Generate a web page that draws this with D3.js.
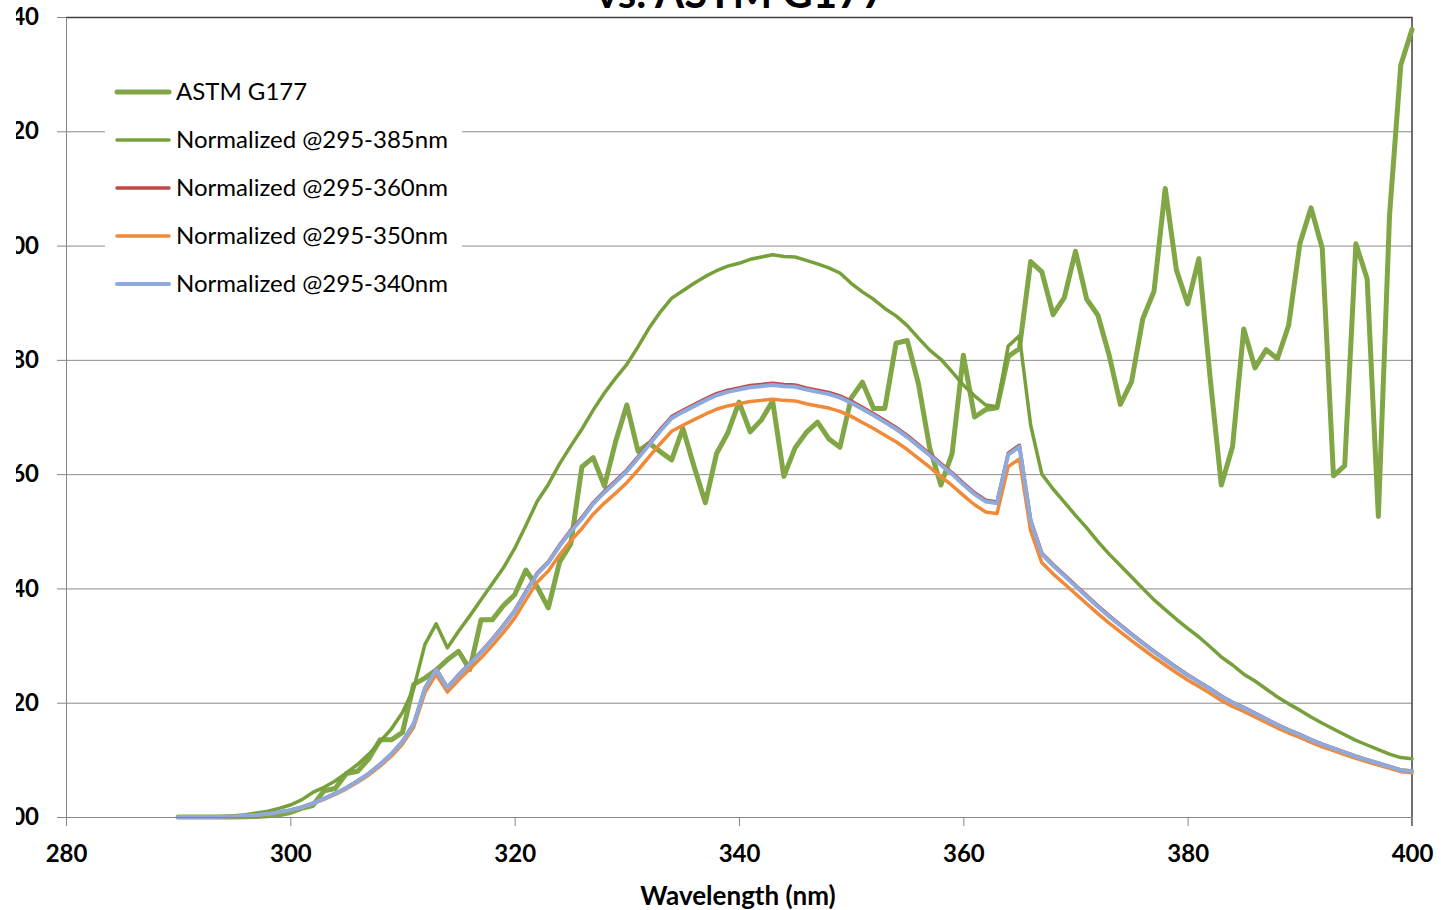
<!DOCTYPE html>
<html>
<head>
<meta charset="utf-8">
<script src="https://cdn.jsdelivr.net/npm/d3@7"></script>
<style>
  body { margin: 0; background: #fff; }
  svg { display: block; }
</style>
</head>
<body>
<div id="chart-area"></div>
<script>
// wavelength grid, nm
var wavelengths = d3.range(290, 401);

// ASTM G177 reference spectrum
var astm = [
  0, 0, 0, 0, 0, 0, 0.0005, 0.001, 0.002, 0.004,
  0.008, 0.015, 0.020, 0.046, 0.050, 0.076, 0.080, 0.102, 0.135, 0.135,
  0.148, 0.232, 0.243, 0.257, 0.275, 0.290, 0.258, 0.345, 0.345, 0.370,
  0.389, 0.432, 0.403, 0.366, 0.446, 0.478, 0.613, 0.629, 0.579, 0.657,
  0.721, 0.640, 0.654, 0.639, 0.625, 0.680, 0.613, 0.550, 0.636, 0.672,
  0.726, 0.674, 0.695, 0.728, 0.596, 0.646, 0.673, 0.691, 0.662, 0.647,
  0.733, 0.761, 0.715, 0.715, 0.829, 0.834, 0.758, 0.646, 0.581, 0.636,
  0.808, 0.700, 0.713, 0.716, 0.806, 0.820, 0.972, 0.954, 0.879, 0.909,
  0.990, 0.906, 0.878, 0.808, 0.722, 0.762, 0.872, 0.920, 1.100, 0.957,
  0.898, 0.977, 0.769, 0.581, 0.648, 0.854, 0.786, 0.818, 0.802, 0.860,
  1.003, 1.066, 0.995, 0.597, 0.615, 1.003, 0.942, 0.526, 1.054, 1.316,
  1.378
];

var norm385 = [
  0, 0, 0, 0, 0.001, 0.002, 0.004, 0.007, 0.010, 0.015,
  0.021, 0.030, 0.043, 0.052, 0.063, 0.077, 0.092, 0.110, 0.132, 0.154,
  0.183, 0.225, 0.302, 0.338, 0.296, 0.325, 0.352, 0.380, 0.408, 0.436,
  0.470, 0.510, 0.552, 0.582, 0.618, 0.649, 0.679, 0.712, 0.742, 0.768,
  0.792, 0.823, 0.856, 0.884, 0.908, 0.921, 0.934, 0.946, 0.956, 0.964,
  0.969, 0.976, 0.980, 0.984, 0.981, 0.980, 0.974, 0.968, 0.961, 0.952,
  0.934, 0.919, 0.906, 0.890, 0.877, 0.860, 0.838, 0.817, 0.801, 0.779,
  0.756, 0.737, 0.721, 0.718, 0.824, 0.842, 0.686, 0.600, 0.574, 0.551,
  0.528, 0.506, 0.482, 0.460, 0.440, 0.420, 0.400, 0.380, 0.363, 0.346,
  0.330, 0.315, 0.298, 0.280, 0.266, 0.250, 0.238, 0.224, 0.210, 0.198,
  0.187, 0.175, 0.164, 0.154, 0.144, 0.134, 0.126, 0.118, 0.110, 0.104,
  0.102
];

var norm360 = [
  0, 0, 0, 0, 0.0005, 0.001, 0.002, 0.0035, 0.0055, 0.0085,
  0.012, 0.0171, 0.0241, 0.0321, 0.0412, 0.0512, 0.0633, 0.0763, 0.0924, 0.1104,
  0.1325, 0.1637, 0.2259, 0.259, 0.2269, 0.249, 0.2691, 0.2892, 0.3112, 0.3353,
  0.3614, 0.3946, 0.4267, 0.4468, 0.4759, 0.502, 0.5241, 0.5502, 0.5703, 0.5883,
  0.6074, 0.6305, 0.6546, 0.6787, 0.7008, 0.7118, 0.7219, 0.7319, 0.741, 0.747,
  0.751, 0.755, 0.757, 0.759, 0.757, 0.756, 0.751, 0.747, 0.743, 0.7369,
  0.7279, 0.7169, 0.7058, 0.6938, 0.6817, 0.6677, 0.6516, 0.6355, 0.6185, 0.6024,
  0.5843, 0.5673, 0.5542, 0.5512, 0.6365, 0.6506, 0.5201, 0.4618, 0.4418, 0.4237,
  0.4056, 0.3875, 0.3695, 0.3524, 0.3363, 0.3203, 0.3052, 0.2902, 0.2761, 0.262,
  0.249, 0.2369, 0.2249, 0.2118, 0.2008, 0.1918, 0.1817, 0.1717, 0.1616, 0.1526,
  0.1446, 0.1355, 0.1275, 0.1205, 0.1135, 0.1064, 0.1004, 0.0944, 0.0884, 0.0823,
  0.0803
];

var norm350 = [
  0, 0, 0, 0, 0.0005, 0.001, 0.002, 0.0034, 0.0053, 0.0082,
  0.0116, 0.0164, 0.0232, 0.0309, 0.0396, 0.0493, 0.0609, 0.0735, 0.089, 0.1064,
  0.1276, 0.1576, 0.2176, 0.2495, 0.2185, 0.2398, 0.2592, 0.2785, 0.2998, 0.323,
  0.3481, 0.38, 0.411, 0.4303, 0.4584, 0.4835, 0.5048, 0.5299, 0.5493, 0.5667,
  0.585, 0.6073, 0.6305, 0.6537, 0.675, 0.6856, 0.6953, 0.7049, 0.7136, 0.7194,
  0.7233, 0.7272, 0.7291, 0.7311, 0.7291, 0.7282, 0.7233, 0.7194, 0.7156, 0.7098,
  0.7011, 0.6904, 0.6798, 0.6682, 0.6566, 0.6431, 0.6276, 0.6121, 0.5957, 0.5802,
  0.5628, 0.5464, 0.5338, 0.5309, 0.6131, 0.6266, 0.5009, 0.4448, 0.4255, 0.4081,
  0.3907, 0.3733, 0.3559, 0.3394, 0.3239, 0.3085, 0.294, 0.2795, 0.2659, 0.2524,
  0.2398, 0.2282, 0.2166, 0.204, 0.1934, 0.1847, 0.175, 0.1654, 0.1557, 0.147,
  0.1392, 0.1305, 0.1228, 0.116, 0.1093, 0.1025, 0.0967, 0.0909, 0.0851, 0.0793,
  0.0774
];

var norm340 = [
  0, 0, 0, 0, 0.0005, 0.001, 0.002, 0.0035, 0.0055, 0.0085,
  0.012, 0.017, 0.024, 0.032, 0.041, 0.051, 0.063, 0.076, 0.092, 0.110,
  0.132, 0.163, 0.225, 0.258, 0.226, 0.248, 0.268, 0.288, 0.310, 0.334,
  0.360, 0.393, 0.425, 0.445, 0.474, 0.500, 0.522, 0.548, 0.568, 0.586,
  0.605, 0.628, 0.652, 0.676, 0.698, 0.709, 0.719, 0.729, 0.738, 0.744,
  0.748, 0.752, 0.754, 0.756, 0.754, 0.753, 0.748, 0.744, 0.740, 0.734,
  0.725, 0.714, 0.703, 0.691, 0.679, 0.665, 0.649, 0.633, 0.616, 0.600,
  0.582, 0.565, 0.552, 0.549, 0.634, 0.648, 0.518, 0.460, 0.440, 0.422,
  0.404, 0.386, 0.368, 0.351, 0.335, 0.319, 0.304, 0.289, 0.275, 0.261,
  0.248, 0.236, 0.224, 0.211, 0.200, 0.191, 0.181, 0.171, 0.161, 0.152,
  0.144, 0.135, 0.127, 0.120, 0.113, 0.106, 0.100, 0.094, 0.088, 0.082,
  0.080
];

var seriesNames = ["ASTM G177", "Normalized @295-385nm", "Normalized @295-360nm",
                   "Normalized @295-350nm", "Normalized @295-340nm"];
var seriesValues = [astm, norm385, norm360, norm350, norm340];
var seriesColors = ["#80a646", "#76a03a", "#be4b48", "#f08a38", "#8eaadc"];
var seriesWidths = [5, 3.5, 3.5, 3.5, 4];

var xTicks = [280, 300, 320, 340, 360, 380, 400];
var yTicks = [0, 0.2, 0.4, 0.6, 0.8, 1.0, 1.2, 1.4];
var yTickLabels = ["0.00", "0.20", "0.40", "0.60", "0.80", "1.00", "1.20", "1.40"];

var titleText = "vs. ASTM G177";
var xTitle = "Wavelength (nm)";

var margin = {top: 17, right: 29, bottom: 93, left: 66};
var width = 1346;
var height = 800;
var fontFamily = "Lato, 'Open Sans', sans-serif";

var svg = d3.select("#chart-area").append("svg")
            .attr("width", width + margin.left + margin.right)
            .attr("height", height + margin.top + margin.bottom);

var g = svg.append("g")
           .attr("transform", "translate(" + margin.left + ", " + margin.top + ")");

var x = d3.scaleLinear()
          .domain([280, 400])
          .range([0, width]);

var y = d3.scaleLinear()
          .domain([0, 1.4])
          .range([height, 0]);

// gridlines
g.append("g")
  .attr("class", "grid")
  .call(d3.axisLeft(y).tickValues(yTicks).tickSize(-width).tickFormat(""))
  .call((s) => s.select(".domain").remove())
  .selectAll("line")
  .attr("stroke", "#8c8c8c")
  .attr("stroke-width", 1);

// plot border, top and right
g.append("path")
  .attr("d", "M0,0.5H" + width + "V" + (height + 9))
  .attr("fill", "none")
  .attr("stroke", "#404040")
  .attr("stroke-width", 1.5);

// legend box (drawn before lines so grid is hidden behind it)
var legend = svg.append("g").attr("class", "legend");
legend.append("rect")
  .attr("x", 105)
  .attr("y", 64)
  .attr("width", 357)
  .attr("height", 246)
  .attr("fill", "#fff");

// series lines
var line = d3.line()
             .x((d, i) => x(wavelengths[i]))
             .y((d) => y(d));

seriesValues.forEach((vals, i) => {
  g.append("path")
    .datum(vals)
    .attr("d", line)
    .attr("fill", "none")
    .attr("stroke", seriesColors[i])
    .attr("stroke-width", seriesWidths[i])
    .attr("stroke-linejoin", "round")
    .attr("stroke-linecap", "round");
});

// axes
var xAxisGroup = g.append("g")
                  .attr("class", "x axis")
                  .attr("transform", "translate(0, " + height + ")")
                  .call(d3.axisBottom(x).tickValues(xTicks).tickSize(9).tickSizeOuter(0).tickPadding(19));

xAxisGroup.select(".domain").attr("stroke", "#868686");
xAxisGroup.selectAll(".tick line").attr("stroke", "#868686");
xAxisGroup.selectAll("text")
  .attr("fill", "#000")
  .style("font-family", fontFamily)
  .style("font-weight", "bold")
  .style("font-size", "24px");

// the left edge of the picture cuts the y labels, as in the source image
svg.append("clipPath")
   .attr("id", "ylab-clip")
   .append("rect")
   .attr("x", 16).attr("y", 0)
   .attr("width", 1425).attr("height", 910);

var yAxisGroup = svg.append("g")
                  .attr("clip-path", "url(#ylab-clip)")
                  .append("g")
                  .attr("class", "y axis")
                  .attr("transform", "translate(" + margin.left + ", " + margin.top + ")")
                  .call(d3.axisLeft(y).tickValues(yTicks).tickSize(9).tickSizeOuter(0).tickPadding(18)
                          .tickFormat((d, i) => yTickLabels[i]));

yAxisGroup.select(".domain").attr("stroke", "#868686");
yAxisGroup.selectAll(".tick line").attr("stroke", "#868686");
yAxisGroup.selectAll("text")
  .attr("fill", "#000")
  .style("font-family", fontFamily)
  .style("font-weight", "bold")
  .style("font-size", "24px");

// x axis title
svg.append("text")
  .attr("x", margin.left + width / 2 - 1)
  .attr("y", 905)
  .attr("text-anchor", "middle")
  .style("font-family", fontFamily)
  .style("font-weight", "bold")
  .style("font-size", "26px")
  .style("fill", "#000")
  .text(xTitle);

// chart title, only its lower part shows
svg.append("text")
  .attr("x", 741)
  .attr("y", 8)
  .attr("text-anchor", "middle")
  .style("font-family", fontFamily)
  .style("font-weight", "bold")
  .style("font-size", "42px")
  .style("fill", "#000")
  .text(titleText);

// legend entries
var rows = legend.selectAll("g.row")
                 .data(seriesNames)
                 .enter().append("g")
                 .attr("class", "row")
                 .attr("transform", (d, i) => "translate(117, " + (92 + i * 48) + ")");

rows.append("line")
  .attr("x1", 0).attr("x2", 52)
  .attr("y1", 0).attr("y2", 0)
  .attr("stroke", (d, i) => seriesColors[i])
  .attr("stroke-width", (d, i) => seriesWidths[i])
  .attr("stroke-linecap", "round");

rows.append("text")
  .attr("x", 59)
  .attr("y", 0)
  .attr("dy", "0.35em")
  .style("font-family", fontFamily)
  .style("font-size", "24px")
  .style("fill", "#000")
  .text((d) => d);
</script>
</body>
</html>
